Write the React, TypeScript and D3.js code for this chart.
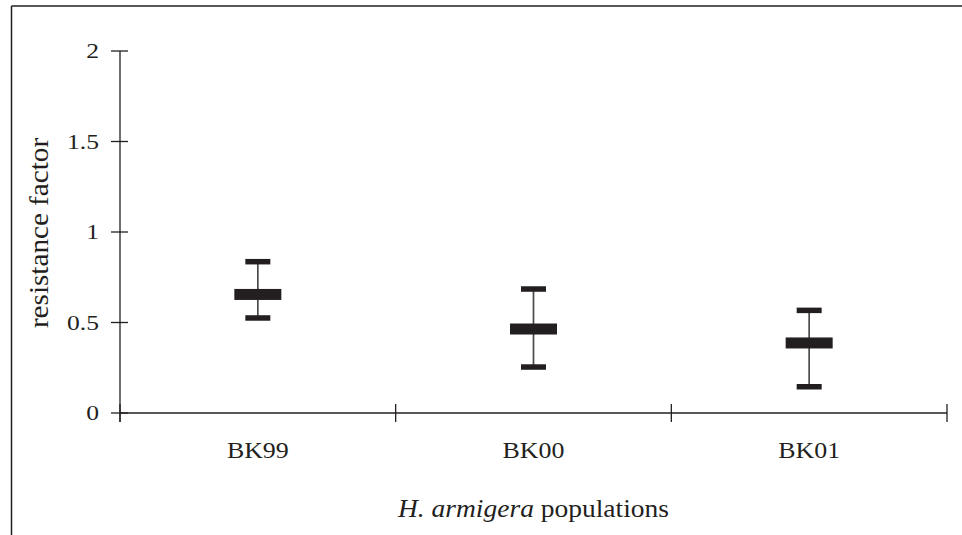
import React from 'react';
import * as d3 from 'd3';

const width = 962;
const height = 535;
const margin = { top: 51, right: 15, bottom: 122, left: 120 };
const ink = '#231f20';

// populations, mean resistance factor and the error range
const populations = ['BK99', 'BK00', 'BK01'];
const means = [0.655, 0.464, 0.387];
const upper = [0.836, 0.685, 0.567];
const lower = [0.525, 0.254, 0.145];
const yTicks = [0, 0.5, 1, 1.5, 2];

const xScale = d3.scaleBand<string>().domain(populations).range([margin.left, width - margin.right]).padding(0);
const yScale = d3.scaleLinear().domain([0, 2]).range([height - margin.bottom, margin.top]);

const font = '"Liberation Serif", "Times New Roman", serif';

export default function App() {
  const y0 = yScale(0);
  const bw = xScale.bandwidth();
  const bounds = populations.map(p => xScale(p) as number).concat([width - margin.right]);

  return (
    <svg width={width} height={height} style={{ position: 'fixed', left: 0, top: 0, background: '#fff' }}>
      {/* frame, only top and left edges show */}
      <line x1={11.5} y1={6} x2={width} y2={6} stroke={ink} strokeWidth={1.5} />
      <line x1={11.5} y1={6} x2={11.5} y2={height} stroke={ink} strokeWidth={1.5} />

      {/* y axis */}
      <line x1={margin.left} y1={yScale(2)} x2={margin.left} y2={y0 + 9} stroke={ink} strokeWidth={1.3} />
      {yTicks.map(t => (
        <g key={t}>
          <line x1={margin.left - 9} x2={margin.left + 8} y1={yScale(t)} y2={yScale(t)} stroke={ink} strokeWidth={1.3} />
          <text transform={`translate(${margin.left - 21},${yScale(t) + 7}) scale(1.22,1)`} textAnchor="end"
            fontFamily={font} fontSize={21} fill={ink}>{t}</text>
        </g>
      ))}

      {/* x axis */}
      <line x1={margin.left} y1={y0} x2={width - margin.right} y2={y0} stroke={ink} strokeWidth={1.5} />
      {bounds.map((b, i) => (
        <line key={i} x1={b} x2={b} y1={y0 - 9} y2={y0 + 9} stroke={ink} strokeWidth={1.3} />
      ))}
      {populations.map(p => (
        <text key={p} transform={`translate(${(xScale(p) as number) + bw / 2},${y0 + 45}) scale(1.08,1)`}
          textAnchor="middle" fontFamily={font} fontSize={24} fill={ink}>{p}</text>
      ))}

      {/* error bars */}
      {populations.map((p, i) => {
        const cx = (xScale(p) as number) + bw / 2;
        return (
          <g key={p}>
            <line x1={cx} x2={cx} y1={yScale(upper[i])} y2={yScale(lower[i])} stroke="#4a4a4a" strokeWidth={1.7} />
            <rect x={cx - 12.5} y={yScale(upper[i]) - 2.75} width={25} height={5.5} fill={ink} />
            <rect x={cx - 12.5} y={yScale(lower[i]) - 2.75} width={25} height={5.5} fill={ink} />
            <rect x={cx - 23.5} y={yScale(means[i]) - 5.5} width={47} height={11} fill={ink} />
          </g>
        );
      })}

      {/* axis titles */}
      <text transform={`translate(48,${(yScale(0) + yScale(2)) / 2 + 1}) rotate(-90) scale(1.08,1)`}
        textAnchor="middle" fontFamily={font} fontSize={27} fill={ink}>resistance factor</text>
      <text transform={`translate(${(margin.left + width - margin.right) / 2},517) scale(1.1,1)`}
        textAnchor="middle" fontFamily={font} fontSize={25} fill={ink}>
        <tspan fontStyle="italic">H. armigera</tspan> populations
      </text>
    </svg>
  );
}
